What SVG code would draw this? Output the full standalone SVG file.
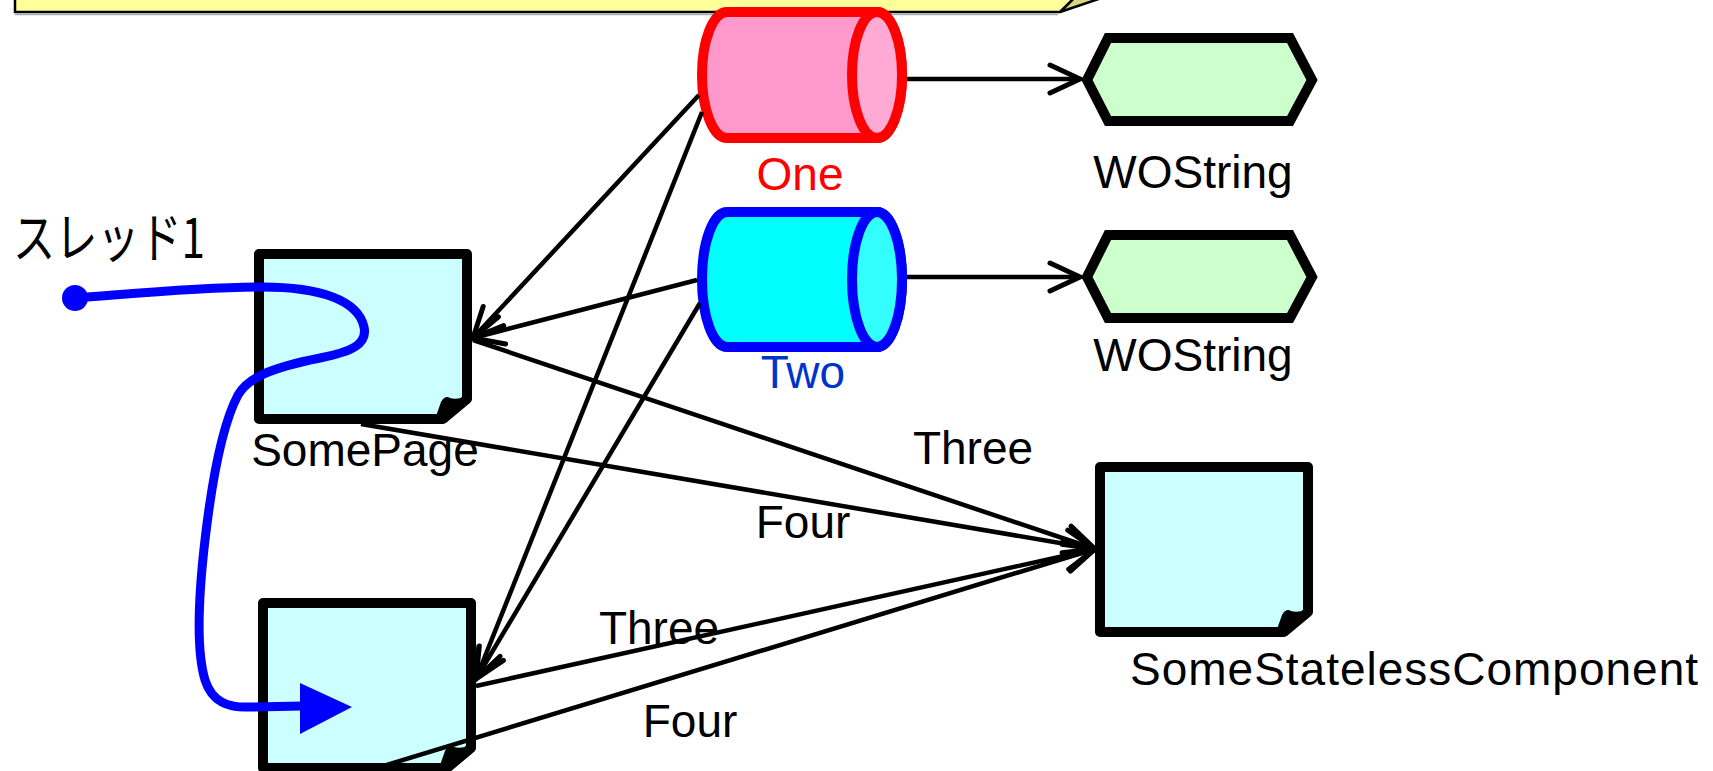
<svg xmlns="http://www.w3.org/2000/svg" width="1713" height="771" viewBox="0 0 1713 771">
  <style>
    text { font-family: "Liberation Sans", Arial, sans-serif; font-size: 46px; fill: #000; }
    .lbl { text-anchor: middle; }
    .jp { font-family: "Noto Sans CJK JP", "Liberation Sans", sans-serif; font-size: 54px; }
    .edge { fill: none; stroke: #000; stroke-width: 4.5; marker-end: url(#open); }
    .thread { fill: none; stroke: #0000ff; stroke-width: 9; stroke-linecap: round; }
  </style>
  <defs>
    <!-- open V arrowhead -->
    <marker id="open" markerUnits="userSpaceOnUse" viewBox="-40 -20 50 40" refX="0" refY="0" markerWidth="50" markerHeight="40" orient="auto" overflow="visible">
      <path d="M-30,-14 L0,0 L-30,14" fill="none" stroke="#000" stroke-width="5" stroke-linecap="round" stroke-linejoin="miter"/>
    </marker>
    <!-- component page with folded corner -->
    <g id="page">
      <path d="M0,0 H208 V145 L184,165 H0 Z" fill="#ccffff" stroke="#000" stroke-width="10" stroke-linejoin="round"/>
      <path d="M176,165 L182,148 Q186,141 191,144 Q196,146 208,143 L208,145 L184,165 Z" fill="#000"/>
    </g>
    <!-- string element -->
    <polygon id="hex" points="0,0 21,-42 203,-42 225,0 203,41 21,41" fill="#ccffcc" stroke="#000" stroke-width="10" stroke-linejoin="miter"/>
  </defs>

  <!-- banner box at the top edge -->
  <g id="banner">
    <polygon points="1060,12 1155,-20 1092,-20" fill="#d6d683" stroke="#000" stroke-width="2.5" stroke-linejoin="miter"/>
    <polygon points="15,-20 1092,-20 1060,12 15,12" fill="#ffff99" stroke="#000" stroke-width="2.5"/>
    <line x1="15" y1="14.5" x2="1058" y2="14.5" stroke="#aaa" stroke-width="1.5"/>
  </g>

  <!-- stateful variable One -->
  <g id="one">
    <path d="M727,12 H877 A25,63 0 0 1 877,138 H727 A25,63 0 0 1 727,12 Z" fill="#ff99cc" stroke="#ff0000" stroke-width="10"/>
    <ellipse cx="877" cy="75" rx="25" ry="63" fill="#ffaad5" stroke="#ff0000" stroke-width="10"/>
    <text class="lbl" x="800" y="190" style="fill:#ff0000">One</text>
  </g>

  <!-- stateful variable Two -->
  <g id="two">
    <path d="M727,212 H877 A25,67.5 0 0 1 877,347 H727 A25,67.5 0 0 1 727,212 Z" fill="#00ffff" stroke="#0000ff" stroke-width="10"/>
    <ellipse cx="877" cy="279.5" rx="25" ry="67.5" fill="#33ffff" stroke="#0000ff" stroke-width="10"/>
    <text class="lbl" x="803" y="388" style="fill:#0033cc">Two</text>
  </g>

  <g id="wostring1">
    <use href="#hex" transform="translate(1087,80)"/>
    <text class="lbl" x="1193" y="188">WOString</text>
  </g>

  <g id="wostring2">
    <use href="#hex" transform="translate(1087,277)"/>
    <text class="lbl" x="1193" y="371">WOString</text>
  </g>

  <g id="somepage">
    <use href="#page" transform="translate(259,254)"/>
    <text class="lbl" x="365" y="466">SomePage</text>
  </g>

  <g id="page2">
    <use href="#page" transform="translate(263,603)"/>
  </g>

  <g id="stateless">
    <use href="#page" transform="translate(1100,467)"/>
    <text class="lbl" x="1414" y="685" textLength="568" lengthAdjust="spacing">SomeStatelessComponent</text>
  </g>

  <g id="thread-label">
    <text class="jp" x="13" y="258" textLength="192" lengthAdjust="spacingAndGlyphs">スレッド1</text>
  </g>

  <!-- connectors -->
  <g id="connectors">
    <path class="edge" d="M907,79 L1080,79"/>
    <path class="edge" d="M907,277 L1080,277"/>
    <path class="edge" d="M699,95 L473,338"/>
    <path class="edge" d="M697,280 L473,338"/>
    <path class="edge" d="M702,112 L476,679"/>
    <path class="edge" d="M700,303 L476,679"/>
    <path class="edge" d="M473,340 L1095,549"/>
    <path class="edge" d="M361,424 L1095,549"/>
    <path class="edge" d="M476,686 L1095,549"/>
    <path class="edge" d="M380,767 L1095,549"/>
    <text class="lbl" x="973" y="464">Three</text>
    <text class="lbl" x="803" y="538">Four</text>
    <text class="lbl" x="659" y="644">Three</text>
    <text class="lbl" x="690" y="737">Four</text>
  </g>

  <!-- execution thread path -->
  <g id="thread">
    <circle cx="75" cy="298" r="13" fill="#0000ff"/>
    <path class="thread" d="M75,298 C130,294 200,287 262,287 C320,287 358,300 364,327 C368,345 350,352 320,358 C270,368 248,378 238,395 C222,425 212,480 205,540 C198,600 196,650 205,680 C212,702 228,708 250,707 L302,706"/>
    <polygon points="300,683 352,707 300,734" fill="#0000ff"/>
  </g>
</svg>
